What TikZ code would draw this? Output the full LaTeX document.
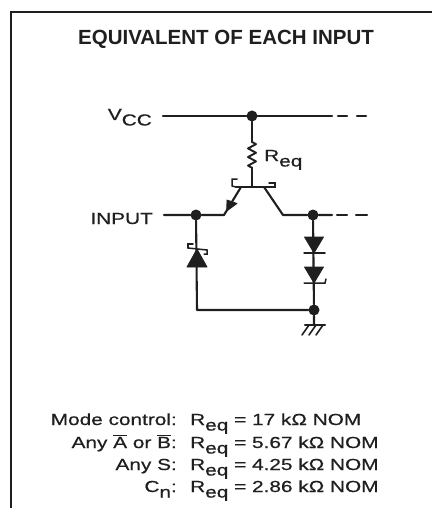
\documentclass[tikz,border=0pt]{standalone}
\usepackage{fontspec}
\setmainfont{Liberation Sans}
\newfontfamily\bodyf[FakeStretch=1.3,FakeBold=0.6]{Liberation Sans}
\usetikzlibrary{decorations.pathmorphing}
\tikzset{
  wire/.style={line width=2.1pt,line cap=round,line join=round,black!88},
  dot/.style={circle,fill=black!88,inner sep=0pt,minimum size=11pt},
  lbl/.style={inner sep=0pt,text=black!88,font=\bodyf\fontsize{16}{18}\selectfont},
  tip/.style={fill=black!88,draw=black!88,line width=0.8pt,line join=round},
  hook/.style={line width=1.5pt,black!88,line cap=round}
}
\newcommand{\sbs}[1]{\raisebox{-5.5pt}{#1}}
\newcommand{\ovl}[1]{\leavevmode\vbox{\hrule height 1.1pt\kern 1.2pt\hbox{#1}}}
\begin{document}
\begin{tikzpicture}[x=1pt,y=-1pt]
\useasboundingbox (0,0) rectangle (432,508);
% frame
\coordinate (fa) at (11,508);
\coordinate (fb) at (11,12);
\coordinate (fc) at (432,12);
\draw[line width=2.2pt,black!88] (fa) -- (fb) -- (fc);
% title
\node[inner sep=0pt,text=black!88,font=\fontsize{20.5}{22}\selectfont\bfseries,anchor=base] (title) at (226,45) {EQUIVALENT OF EACH INPUT};
% labels
\node[lbl,anchor=base east] (vcc) at (152,120) {V\sbs{CC}};
\node[lbl,anchor=base east] (inp) at (153,224) {INPUT};
\node[lbl,anchor=base west] (req) at (264,161) {R\sbs{eq}};
% points
\node[dot] (j1) at (252,116) {};
\node[dot] (j2) at (196,215) {};
\node[dot] (j3) at (313,215) {};
\node[dot] (j4) at (314,310) {};
\coordinate (v0) at (163,116);
\coordinate (v1) at (332,116);
\coordinate (v2) at (338,116);
\coordinate (v3) at (347,116);
\coordinate (v4) at (357,116);
\coordinate (v5) at (366,116);
\coordinate (i0) at (164,215);
\coordinate (e0) at (224,215);
\coordinate (e1) at (241,187);
\coordinate (c1) at (264,187);
\coordinate (c0) at (283,215);
\coordinate (o1) at (332,215);
\coordinate (o2) at (337,215);
\coordinate (o3) at (347,215);
\coordinate (o4) at (356,215);
\coordinate (o5) at (367,215);
\coordinate (b0) at (252,187);
\coordinate (bl) at (236,187);
\coordinate (br) at (275,187);
\coordinate (r1) at (252,142);
\coordinate (r2) at (252,168);
\coordinate (bc) at (197,310);
\coordinate (g0) at (314,325);
% wires
\draw[wire] (v0) -- (j1) -- (v1);
\draw[wire] (v2) -- (v3);
\draw[wire] (v4) -- (v5);
\draw[wire] (j1) -- (r1);
\draw[wire,line width=1.9pt,decorate,decoration={zigzag,segment length=8.6pt,amplitude=4pt}] (r1) -- (r2);
\draw[wire] (r2) -- (b0);
\draw[wire,line width=2.4pt] (bl) -- (br);
\draw[wire] (i0) -- (j2) -- (e0) -- (e1);
\draw[wire] (c1) -- (c0) -- (j3) -- (o1);
\draw[wire] (o2) -- (o3);
\draw[wire] (o4) -- (o5);
\draw[wire] (j2) -- (bc) -- (j4);
\draw[wire] (j3) -- (j4) -- (g0);
% emitter arrow
\draw[tip] (226.7,211) -- (227,200) -- (237,203.5) -- cycle;
% Schottky hooks on the transistor
\draw[hook] (236,187) -- (232,186) -- (232,179) -- (237,179);
\draw[hook] (267,187) -- (275,187) -- (275,183) -- (269,183);
% zener
\draw[tip] (197,249) -- (187,267) -- (207,267) -- cycle;
\draw[hook] (188,248) -- (188,244) -- (193,244);
\draw[hook] (188,248) -- (207,250) -- (207,254) -- (204,254);
% diodes
\draw[tip] (304.5,237) -- (323.5,237) -- (314,253) -- cycle;
\draw[hook] (304,253) -- (325,253);
\draw[tip] (304.5,267) -- (323.5,267) -- (314,283) -- cycle;
\draw[hook] (304,283) -- (325,283) -- (326,279);
% ground
\draw[wire] (305,325) -- (325,325);
\draw[wire,line width=1.6pt] (309,325) -- (302,335) (316,325) -- (309,335) (323,325) -- (316,335);
% table
\node[lbl,anchor=base east] (t1) at (177,425) {Mode control:};
\node[lbl,anchor=base east] (t2) at (177,448) {Any \ovl{A} or \ovl{B}:};
\node[lbl,anchor=base east] (t3) at (177,470) {Any S:};
\node[lbl,anchor=base east] (t4) at (177,492) {C\sbs{n}:};
\node[lbl,anchor=base west] (v1t) at (190,425) {R\sbs{eq} = 17 kΩ NOM};
\node[lbl,anchor=base west] (v2t) at (190,448) {R\sbs{eq} = 5.67 kΩ NOM};
\node[lbl,anchor=base west] (v3t) at (190,470) {R\sbs{eq} = 4.25 kΩ NOM};
\node[lbl,anchor=base west] (v4t) at (190,492) {R\sbs{eq} = 2.86 kΩ NOM};
\end{tikzpicture}
\end{document}
